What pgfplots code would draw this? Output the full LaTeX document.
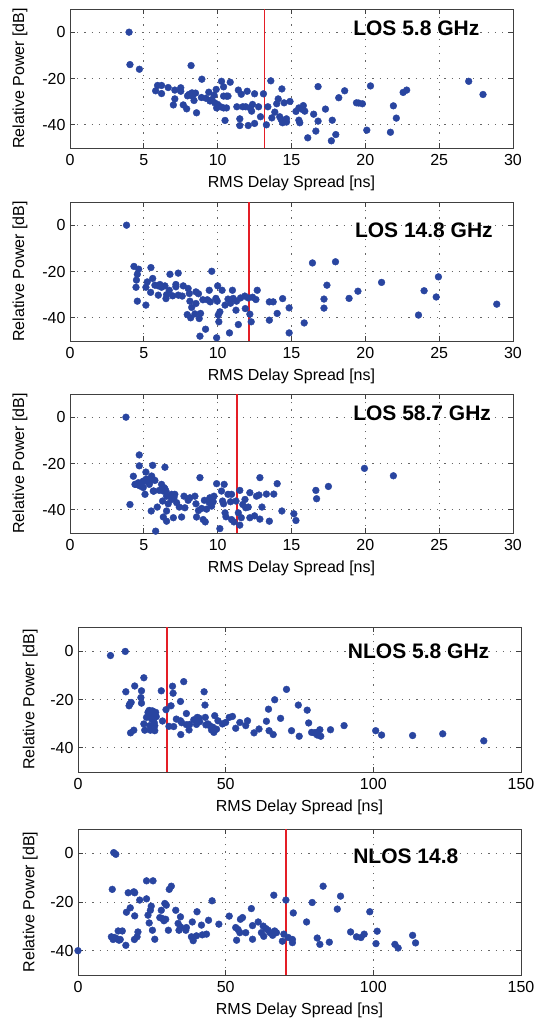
\documentclass[border=0pt]{standalone}
\usepackage{pgfplots}
\pgfplotsset{compat=1.18}
\usepackage{pgfplotstable}
\usepackage{fontspec}
\setmainfont{Liberation Sans}
\definecolor{dotblue}{RGB}{41,69,160}
\definecolor{vred}{RGB}{228,30,38}

\pgfplotstableread{
x y
4.0 0
4.06 -14.0
4.7 -16.0
8.2 -14.4
5.8 -25.3
5.93 -23.0
6.2 -23.0
6.2 -26.5
6.65 -23.9
7.0 -31.4
7.1 -28.8
7.1 -25.0
7.5 -24.0
7.5 -25.5
7.67 -31.4
7.9 -33.1
7.96 -27.5
8.05 -26.9
8.26 -26.2
8.3 -27.6
8.4 -29.5
8.5 -26.3
8.57 -34.8
8.9 -28.2
8.93 -20.3
9.2 -28.5
9.4 -25.9
9.48 -29.7
9.6 -29.1
9.76 -27.2
9.8 -30.5
9.9 -24.7
9.93 -32.7
10.0 -31.2
10.2 -32.2
10.26 -21.2
10.4 -23.6
10.4 -27.6
10.4 -32.7
10.5 -38.1
10.6 -27.6
10.6 -32.7
10.7 -27.6
10.85 -21.6
11.3 -32.2
11.4 -25.0
11.5 -37.4
11.5 -40.3
11.6 -26.8
11.7 -32.2
11.9 -32.2
12.0 -25.5
12.07 -40.3
12.2 -32.7
12.3 -34.1
12.36 -31.2
12.5 -39.4
12.5 -26.6
12.77 -32.2
12.9 -36.5
13.1 -26.6
13.3 -40.0
13.4 -32.2
13.6 -21.0
13.67 -37.0
13.87 -34.5
14.0 -30.9
14.1 -28.8
14.2 -36.5
14.3 -37.7
14.35 -24.5
14.4 -39.1
14.5 -30.5
14.66 -37.4
14.66 -38.8
14.9 -29.9
15.3 -34.2
15.5 -32.7
15.5 -38.0
15.56 -39.1
15.75 -33.4
15.8 -31.7
15.9 -34.1
16.1 -45.6
16.5 -35.4
16.65 -42.7
16.8 -23.5
16.8 -38.4
17.3 -33.2
17.7 -46.9
17.76 -38.0
18.0 -44.2
18.2 -28.3
18.6 -25.3
19.4 -30.5
19.55 -30.6
19.8 -30.9
20.1 -42.3
20.35 -23.2
21.7 -43.2
21.9 -31.8
22.1 -37.1
22.56 -26.0
22.8 -25.0
27.0 -21.2
27.97 -26.9
}\losA

\pgfplotstableread{
x y
3.83 0
4.33 -17.8
4.65 -19.0
4.56 -21.2
4.5 -23.7
4.47 -26.8
4.56 -32.8
5.14 -34.5
5.23 -24.5
5.14 -26.8
5.48 -18.3
5.6 -23.0
5.46 -29.0
5.75 -25.9
5.98 -26.2
5.98 -30.2
6.09 -25.6
6.2 -26.8
6.43 -26.2
6.5 -31.7
6.54 -30.0
6.72 -28.1
6.77 -21.2
6.95 -30.5
7.17 -25.6
7.17 -26.6
7.33 -20.7
7.33 -30.2
7.6 -30.6
7.67 -26.2
7.94 -38.6
8.0 -27.3
8.08 -29.5
8.12 -32.8
8.17 -40.0
8.24 -35.5
8.46 -38.3
8.53 -28.8
8.53 -33.8
8.7 -29.6
8.75 -40.3
8.84 -38.1
8.8 -47.9
9.0 -32.2
9.18 -44.9
9.3 -32.2
9.43 -28.1
9.5 -33.1
9.6 -19.9
9.88 -31.6
9.93 -48.6
9.97 -32.8
10.0 -26.2
10.04 -38.8
10.08 -41.7
10.15 -37.4
10.3 -28.1
10.5 -34.5
10.7 -31.9
10.8 -46.5
10.87 -33.7
11.0 -28.1
11.05 -31.6
11.24 -36.7
11.28 -32.8
11.4 -42.9
11.55 -31.4
11.84 -30.6
11.87 -36.0
12.07 -31.4
12.18 -38.4
12.27 -41.7
12.36 -31.1
12.59 -32.1
12.68 -28.1
13.5 -41.0
13.5 -33.1
13.76 -33.1
14.03 -38.1
14.4 -31.7
14.84 -35.7
14.84 -46.5
15.86 -42.2
16.42 -16.3
17.2 -31.9
17.2 -35.8
17.4 -25.9
17.98 -15.8
18.9 -31.6
19.5 -28.5
21.1 -24.7
23.6 -38.8
23.98 -28.3
24.8 -31.0
24.95 -22.3
28.9 -34.1
}\losB

\pgfplotstableread{
x y
3.79 0
4.69 -16.3
4.69 -21.0
4.29 -25.5
4.06 -37.7
4.4 -29.0
4.56 -29.0
4.74 -29.7
4.85 -28.3
4.96 -30.4
5.08 -27.6
5.14 -23.7
5.23 -26.8
5.08 -33.3
5.37 -29.0
5.5 -40.5
5.6 -20.8
5.68 -31.9
5.75 -27.3
5.8 -49.2
5.91 -38.8
6.05 -31.6
6.2 -29.0
6.27 -36.2
6.36 -30.4
6.43 -21.6
6.32 -43.1
6.5 -31.9
6.54 -40.5
6.65 -37.4
6.54 -44.9
6.88 -33.3
7.04 -34.8
7.1 -33.3
7.0 -43.4
7.22 -36.9
7.4 -38.8
7.56 -43.1
7.72 -34.1
7.78 -39.1
8.0 -35.9
8.12 -34.8
8.46 -34.1
8.53 -37.4
8.57 -43.1
8.8 -26.1
8.7 -40.3
8.91 -39.4
9.02 -44.2
9.1 -35.9
9.16 -45.2
9.25 -39.7
9.43 -36.9
9.47 -34.8
9.59 -38.4
9.7 -36.5
9.75 -34.1
9.93 -28.7
10.15 -48.1
10.26 -31.9
10.33 -36.2
10.4 -37.4
10.44 -29.0
10.5 -41.3
10.56 -43.0
10.7 -33.3
10.87 -36.5
10.94 -33.3
10.94 -44.2
11.1 -45.2
11.24 -36.2
11.4 -41.3
11.5 -31.6
11.5 -46.6
11.6 -43.4
11.7 -37.7
11.85 -35.5
11.9 -39.1
12.07 -38.8
12.18 -32.6
12.18 -43.4
12.5 -42.6
12.63 -34.1
12.8 -33.6
12.86 -26.1
12.86 -44.0
13.0 -38.8
13.3 -33.2
13.5 -44.9
13.8 -33.2
14.03 -28.7
14.35 -40.5
15.16 -41.7
15.3 -44.6
16.65 -31.6
16.7 -35.2
17.5 -29.9
19.94 -22.1
21.9 -25.3
4.47 -29.0
4.63 -28.3
4.96 -27.6
5.15 -26.8
5.37 -28.3
5.53 -25.4
5.6 -26.8
5.64 -31.9
6.32 -31.9
6.43 -30.9
6.54 -34.1
6.88 -35.5
7.0 -34.1
}\losC

\pgfplotstableread{
x y
11.0 -1.8
16.0 -0.1
16.2 -16.8
17.5 -21.9
17.3 -22.6
18.0 -21.2
17.8 -33.8
18.9 -32.7
19.2 -14.4
21.5 -16.4
21.3 -19.2
21.5 -21.5
22.3 -11.0
22.3 -30.1
22.6 -32.7
23.2 -27.4
23.7 -25.3
24.1 -24.5
24.5 -26.0
24.3 -30.8
24.5 -32.7
24.9 -28.1
25.2 -24.7
25.4 -26.7
25.8 -29.5
26.0 -30.8
26.3 -25.3
26.5 -27.1
26.0 -32.9
28.2 -16.4
28.6 -28.9
29.8 -24.2
30.8 -31.1
31.5 -22.6
32.0 -14.5
32.2 -17.4
32.4 -31.2
33.3 -28.1
34.7 -20.8
34.7 -28.8
34.8 -34.5
35.1 -29.6
35.8 -12.6
36.7 -25.8
36.7 -30.4
37.6 -32.6
37.8 -30.3
39.2 -28.4
40.1 -30.3
40.4 -27.4
41.0 -27.7
41.2 -29.2
42.7 -16.8
43.0 -22.3
43.1 -27.4
43.3 -30.5
44.0 -30.1
44.6 -30.8
45.2 -32.6
45.7 -31.5
46.0 -33.6
46.3 -26.7
46.9 -32.3
47.4 -28.8
48.9 -30.1
50.0 -29.5
51.2 -27.4
52.3 -27.0
53.4 -31.9
54.8 -29.5
56.8 -30.8
57.4 -28.8
59.6 -33.8
61.3 -32.2
63.8 -29.0
64.5 -24.0
64.7 -32.9
66.1 -34.5
66.6 -20.1
68.6 -27.8
70.6 -15.8
72.3 -32.9
74.6 -22.3
74.9 -35.2
77.6 -24.4
78.1 -29.7
79.1 -33.6
80.0 -33.8
80.8 -33.6
81.0 -34.7
81.9 -32.5
82.2 -35.2
85.5 -32.5
90.1 -30.8
100.8 -32.9
102.8 -34.7
113.3 -34.9
123.5 -34.2
137.4 -37.1
}\nlosA

\pgfplotstableread{
x y
0 -40.0
12.1 0.3
12.8 -0.4
11.6 -14.8
11.3 -34.3
11.9 -35.4
12.4 -34.6
13.0 -35.0
13.6 -31.9
13.9 -35.7
14.3 -35.4
15.0 -31.9
16.2 -37.8
16.4 -24.2
17.0 -16.2
17.7 -22.4
18.9 -15.8
19.2 -16.2
19.2 -25.7
19.1 -35.4
20.0 -34.3
20.3 -32.3
20.9 -19.2
23.2 -11.3
23.2 -18.7
23.7 -25.4
24.1 -28.6
24.5 -23.4
24.8 -21.7
25.2 -31.6
25.4 -11.3
26.0 -35.3
27.7 -26.4
28.2 -23.4
28.6 -26.8
29.1 -27.7
29.4 -20.6
29.7 -27.1
29.9 -21.3
30.6 -31.6
30.9 -14.8
31.6 -13.5
33.1 -23.4
33.9 -28.8
34.2 -31.6
34.7 -26.1
34.7 -30.2
36.5 -31.6
36.7 -30.5
38.4 -34.3
38.7 -28.2
39.0 -35.9
40.1 -33.9
40.3 -24.0
41.8 -29.5
42.1 -33.5
43.5 -33.2
44.2 -27.5
45.4 -19.5
47.7 -29.1
51.2 -25.8
53.4 -30.5
53.7 -35.7
54.2 -31.3
54.8 -32.6
55.0 -27.1
55.7 -26.4
56.8 -32.6
58.7 -22.7
59.1 -29.7
59.1 -35.3
61.0 -28.2
62.1 -32.6
62.7 -29.9
62.9 -34.1
63.6 -30.9
64.4 -31.6
65.0 -32.6
65.9 -33.7
66.3 -17.2
66.6 -31.9
67.2 -32.6
69.2 -36.1
69.7 -33.2
70.4 -19.2
71.2 -34.6
72.6 -35.4
72.6 -36.7
72.9 -24.5
77.4 -28.2
79.3 -20.2
81.0 -34.8
81.9 -37.4
83.0 -13.5
85.1 -36.5
87.8 -22.9
88.9 -17.6
92.3 -32.3
94.3 -34.3
95.8 -34.6
96.9 -33.2
98.8 -24.0
100.9 -37.1
101.3 -32.0
107.3 -37.4
108.4 -38.9
113.3 -33.7
114.3 -36.8
}\nlosB

\tikzset{ttl/.style={anchor=west, inner sep=0pt, font=\bfseries\fontsize{21}{25}\selectfont}}

\pgfplotsset{
  panel/.style={
    scale only axis, width=443pt,
    ymin=-50, ymax=10, ytick={-40,-20,0}, yticklabels={-40,-20,0},
    grid=major, grid style={dash pattern=on 1.2pt off 6pt, black!60, line width=0.8pt},
    axis line style={black!75, line width=0.7pt},
    tick style={black!75, line width=0.7pt}, major tick length=5pt,
    tick align=inside,
    xlabel={RMS Delay Spread [ns]}, ylabel={Relative Power [dB]},
    xlabel style={at={(axis description cs:0.5,0)}, anchor=center, yshift=-35pt},
    xticklabel style={yshift=-3pt},
    yticklabel style={xshift=-1pt},
  },
  los/.style={panel, height=139pt, xmin=0, xmax=30, xtick={0,5,...,30},
    xticklabels={0,5,10,15,20,25,30},
    ylabel style={at={(axis description cs:-0.113,0.5)}, anchor=center}},
  nlos/.style={panel, height=145pt, xmin=0, xmax=150, xtick={0,50,100,150},
    xticklabels={0,50,100,150},
    ylabel style={at={(axis description cs:-0.108,0.5)}, anchor=center}},
  pts/.style={only marks, mark=*, mark size=3.4pt, color=dotblue},
  vline/.style={vred, line width=1.8pt},
}

\begin{document}
\begin{tikzpicture}[font=\fontsize{16}{19}\selectfont]
\useasboundingbox (0,0) rectangle (541pt,-1021pt);

\begin{axis}[los, at={(70pt,-148pt)}, anchor=south west]
\addplot[pts] table[x=x,y=y] {\losA};
\addplot[vline] coordinates {(13.17,-50) (13.17,10)};
\node[ttl] at (rel axis cs:0.639,0.863) {LOS 5.8 GHz};
\end{axis}

\begin{axis}[los, at={(70pt,-341pt)}, anchor=south west]
\addplot[pts] table[x=x,y=y] {\losB};
\addplot[vline] coordinates {(12.1,-50) (12.1,10)};
\node[ttl] at (rel axis cs:0.643,0.799) {LOS 14.8 GHz};
\end{axis}

\begin{axis}[los, at={(70pt,-533pt)}, anchor=south west]
\addplot[pts] table[x=x,y=y] {\losC};
\addplot[vline] coordinates {(11.32,-50) (11.32,10)};
\node[ttl] at (rel axis cs:0.639,0.862) {LOS 58.7 GHz};
\end{axis}

\begin{axis}[nlos, at={(78pt,-772pt)}, anchor=south west]
\addplot[pts] table[x=x,y=y] {\nlosA};
\addplot[vline] coordinates {(30,-50) (30,10)};
\node[ttl] at (rel axis cs:0.609,0.834) {NLOS 5.8 GHz};
\end{axis}

\begin{axis}[nlos, height=146pt, at={(78pt,-975pt)}, anchor=south west]
\addplot[pts] table[x=x,y=y] {\nlosB};
\addplot[vline] coordinates {(70.4,-50) (70.4,10)};
\node[ttl] at (rel axis cs:0.621,0.815) {NLOS 14.8};
\end{axis}
\end{tikzpicture}
\end{document}
